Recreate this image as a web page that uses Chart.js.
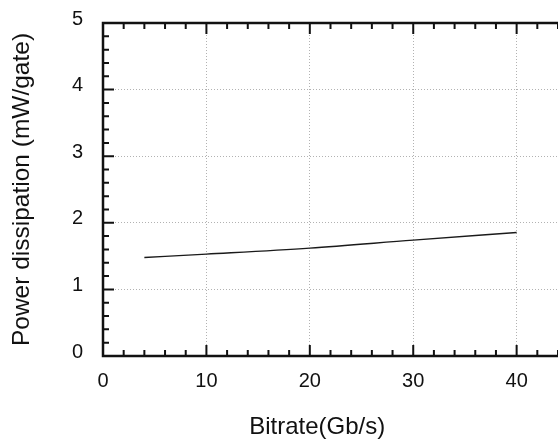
<!DOCTYPE html>
<html>
<head>
<meta charset="utf-8">
<script src="https://cdn.jsdelivr.net/npm/chart.js@4/dist/chart.umd.min.js"></script>
<style>
  html, body { margin: 0; padding: 0; background: #fff; }
  #wrap { width: 558px; height: 439px; position: relative; }
</style>
</head>
<body>
<div id="wrap"><canvas id="c" width="558" height="439"></canvas></div>
<script>
// Data
const bitrate = [4, 10, 20, 30, 40];          // Gb/s
const power   = [1.48, 1.53, 1.62, 1.74, 1.855]; // mW/gate
const xTickValues = [0, 10, 20, 30, 40];
const yTickValues = [0, 1, 2, 3, 4, 5];

const FONT = "'Liberation Sans', Arial, Helvetica, sans-serif";

const framePlugin = {
  id: 'frame',
  afterDatasetsDraw(chart) {
    const {ctx, chartArea: a, scales: {x, y}} = chart;
    ctx.save();
    ctx.strokeStyle = '#111';
    ctx.lineCap = 'butt';
    // inward tick marks
    ctx.lineWidth = 2;
    ctx.beginPath();
    for (let v = 0; v <= x.max + 1e-9; v += 2) {
      const px = x.getPixelForValue(v);
      const len = (Math.abs(v % 10) < 1e-9) ? 11 : 6;
      ctx.moveTo(px, a.bottom); ctx.lineTo(px, a.bottom - len);
      ctx.moveTo(px, a.top);    ctx.lineTo(px, a.top + len);
    }
    for (let i = 0; i <= 25; i++) {
      const v = i * 0.2;
      const py = y.getPixelForValue(v);
      const len = (i % 5 === 0) ? 11 : 6;
      ctx.moveTo(a.left, py); ctx.lineTo(a.left + len, py);
    }
    ctx.stroke();
    // frame (right side falls outside the picture)
    ctx.lineWidth = 2.5;
    ctx.beginPath();
    ctx.moveTo(a.right + 2, a.top);
    ctx.lineTo(a.left, a.top);
    ctx.lineTo(a.left, a.bottom);
    ctx.lineTo(a.right + 2, a.bottom);
    ctx.stroke();
    ctx.restore();
  }
};

new Chart(document.getElementById('c'), {
  type: 'line',
  data: {
    datasets: [{
      data: bitrate.map((b, i) => ({x: b, y: power[i]})),
      borderColor: '#1a1a1a',
      borderWidth: 1.4,
      pointRadius: 0,
      fill: false,
      cubicInterpolationMode: 'monotone'
    }]
  },
  options: {
    responsive: false,
    animation: false,
    devicePixelRatio: 1,
    layout: { padding: { top: 23, right: 0, left: 0, bottom: 0 } },
    plugins: { legend: { display: false }, tooltip: { enabled: false } },
    scales: {
      x: {
        type: 'linear',
        min: 0,
        max: 44,
        afterFit(s) { s.height = 83; s.paddingLeft = 0; s.paddingRight = 0; },
        afterBuildTicks(s) { s.ticks = xTickValues.map(v => ({value: v})); },
        ticks: {
          includeBounds: false,
          stepSize: 10,
          padding: 13,
          color: '#111',
          font: { family: FONT, size: 20 },
          maxRotation: 0
        },
        grid: {
          drawTicks: false,
          color: 'rgba(0,0,0,0.3)',
          lineWidth: 1
        },
        border: { display: false, dash: [1, 2] },
        title: {
          display: true,
          text: 'Bitrate(Gb/s)    ',
          color: '#111',
          font: { family: FONT, size: 24, lineHeight: 1 },
          padding: { top: 0, bottom: 0 }
        }
      },
      y: {
        type: 'linear',
        min: 0,
        max: 5,
        afterFit(s) { s.width = 103; s.paddingTop = 0; s.paddingBottom = 0; },
        afterBuildTicks(s) { s.ticks = yTickValues.map(v => ({value: v})); },
        ticks: {
          stepSize: 1,
          padding: 20,
          labelOffset: -4,
          color: '#111',
          font: { family: FONT, size: 20 }
        },
        grid: {
          drawTicks: false,
          color: 'rgba(0,0,0,0.3)',
          lineWidth: 1
        },
        border: { display: false, dash: [1, 2] },
        title: {
          display: true,
          text: 'Power dissipation (mW/gate)',
          color: '#111',
          font: { family: FONT, size: 24.5, lineHeight: 1 },
          padding: { top: 10, bottom: 0 }
        }
      }
    }
  },
  plugins: [framePlugin]
});
</script>
</body>
</html>
